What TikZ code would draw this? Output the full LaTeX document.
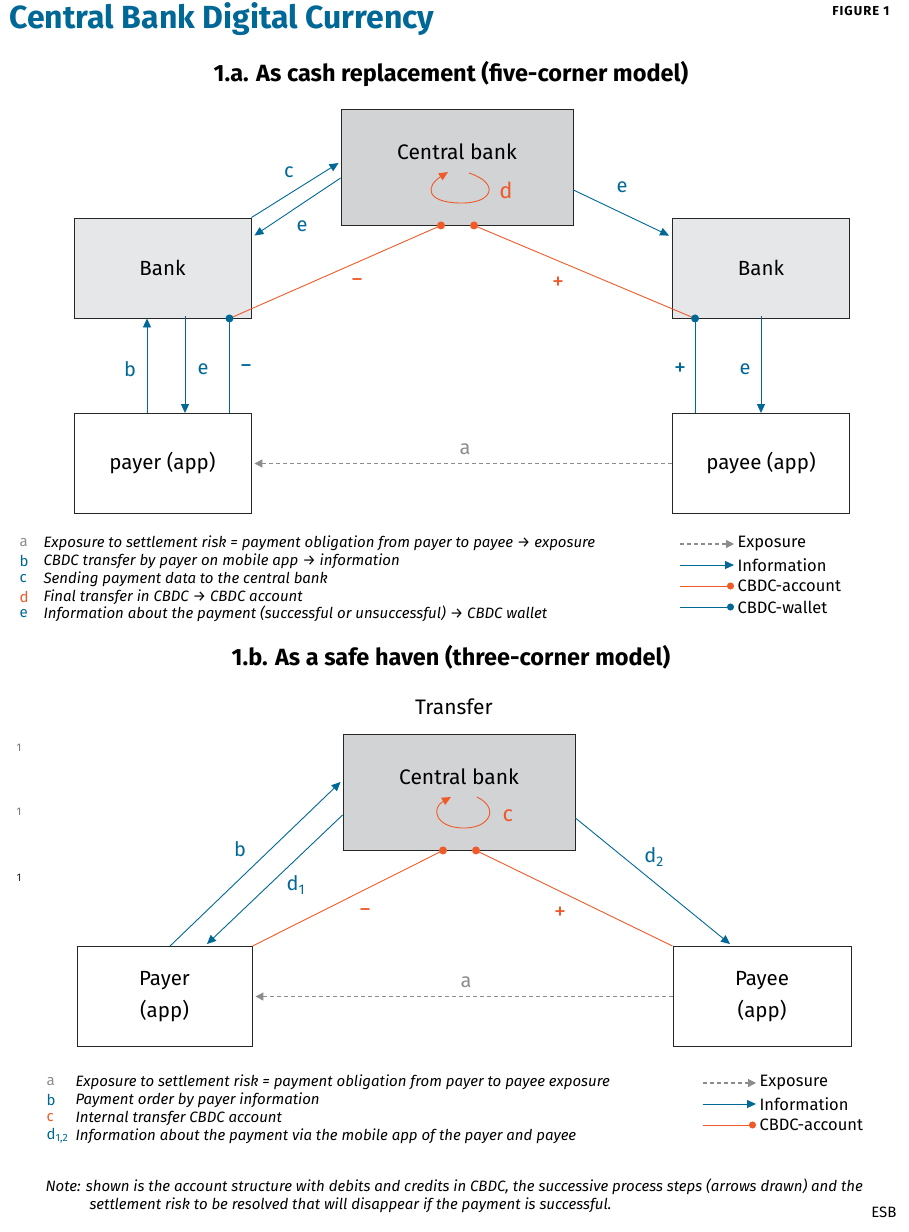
\documentclass[tikz,border=0pt]{standalone}
\usepackage{fontspec}
\setmainfont{Fira Sans}
\usetikzlibrary{positioning,arrows.meta}
\definecolor{esbblue}{RGB}{0,104,150}
\definecolor{esborange}{RGB}{240,90,40}
\definecolor{cbgray}{RGB}{209,211,212}
\definecolor{bankgray}{RGB}{230,231,232}
\definecolor{expgray}{RGB}{140,140,140}

\begin{document}
\begin{tikzpicture}[
  x = 1pt,
  y = -1pt,
  box/.style = {
    draw = black!85,
    line width = 0.9pt,
    rectangle,
    fill = white,
    minimum width = 177pt,
    minimum height = 100pt,
    align = center,
    font = \fontsize{20.5}{32}\selectfont,
  },
  bank/.style = {
    box,
    fill = bankgray,
  },
  central/.style = {
    box,
    fill = cbgray,
    minimum width = 232pt,
    minimum height = 116pt,
  },
  info/.style = {
    draw = esbblue,
    line width = 0.9pt,
    -{Triangle[length=9pt,width=8pt]},
  },
  account/.style = {
    draw = esborange,
    line width = 0.9pt,
  },
  wallet/.style = {
    draw = esbblue,
    line width = 0.9pt,
  },
  expo/.style = {
    draw = expgray,
    line width = 1.2pt,
    dash pattern = on 4pt off 3pt,
    -{Triangle[length=8pt,width=8pt]},
  },
  dot/.style = {
    circle,
    inner sep = 0pt,
    minimum size = 8pt,
  },
  lbl/.style = {
    font = \fontsize{20}{24}\selectfont,
    text = esbblue,
  },
  sign/.style = {
    font = \fontsize{24}{26}\selectfont,
    text = esbblue,
  },
  legend/.style = {
    anchor = west,
    font = \fontsize{15}{18}\selectfont\itshape,
  },
  key/.style = {
    anchor = west,
    font = \fontsize{16.5}{20}\selectfont,
  },
]

  \useasboundingbox (0,0) rectangle (908,1232);

  % headings
  \node[anchor=west,text=esbblue,font=\fontsize{32}{36}\selectfont\bfseries] (title) at (6,19) {Central Bank Digital Currency};
  \node[anchor=east,font=\fontsize{13}{14}\selectfont\bfseries\addfontfeatures{LetterSpace=8}] (fig) at (893,11) {FIGURE 1};
  \node[font=\fontsize{23.5}{26}\selectfont\bfseries] (suba) at (451,74) {1.a. As cash replacement (five-corner model)};

  % 1.a five-corner model
  \node[central] (cb) at (457,167) {};
  \node[font=\fontsize{21}{24}\selectfont] (cbtxt) at ([yshift=-43pt]cb.north) {Central bank};
  \node[bank] (bankL) at (162.5,268) {Bank};
  \node[bank] (bankR) at (761,268) {Bank};
  \node[box] (payer) at (162.5,463.5) {payer (app)};
  \node[box] (payee) at (761,463.5) {payee (app)};

  \coordinate (cbm) at ([xshift=-16pt]cb.south);
  \coordinate (cbp) at ([xshift=17pt]cb.south);
  \coordinate (wL) at ([xshift=-22pt]bankL.south east);
  \coordinate (wR) at ([xshift=23pt]bankR.south west);

  \draw[account,-{Triangle[length=9pt,width=8pt]}] (469,173) .. controls (500,183) and (494,204) .. (459,203)
    .. controls (425,202) and (426,186) .. (448,172);
  \node[lbl,text=esborange,font=\fontsize{22}{24}\selectfont] (ld) at (506,190) {d};

  \draw[info] (bankL.north east) -- ([xshift=-2pt,yshift=4pt]cb.west);
  \node[lbl] (lc) at (289,172) {c};
  \draw[info] ([yshift=-11pt]cb.west) -- ([xshift=3pt,yshift=-18pt]bankL.north east);
  \node[lbl] (le1) at (302,226) {e};
  \draw[info] ([yshift=-23pt]cb.east) -- ([xshift=-3pt,yshift=-18pt]bankR.north west);
  \node[lbl] (le2) at (622,187) {e};

  \draw[account] (cbm) -- (wL);
  \draw[account] (cbp) -- (wR);
  \node[sign,text=esborange] (lm) at (357,283) {−};
  \node[sign,text=esborange] (lp) at (558,283) {+};
  \node[dot,fill=esborange] (dm) at (cbm) {};
  \node[dot,fill=esborange] (dp) at (cbp) {};

  \draw[info] ([xshift=-15.5pt]payer.north) -- ([xshift=-15.5pt]bankL.south);
  \node[lbl] (lb) at (130,369) {b};
  \draw[info] ([xshift=22.5pt,yshift=2pt]bankL.south) -- ([xshift=22.5pt]payer.north);
  \node[lbl] (le3) at (203,369) {e};
  \draw[wallet] (wL) -- (wL |- payer.north);
  \node[sign] (lwm) at (246,369) {−};
  \node[dot,fill=esbblue] (dwl) at (wL) {};

  \draw[wallet] (wR) -- (wR |- payee.north);
  \node[sign] (lwp) at (680,369) {+};
  \draw[info] ([yshift=2pt]bankR.south) -- (payee.north);
  \node[lbl] (le4) at (745,369) {e};
  \node[dot,fill=esbblue] (dwr) at (wR) {};

  \draw[expo] (payee.west) -- ([xshift=3pt]payer.east);
  \node[lbl,text=expgray] (la) at (465,449) {a};

  % legend 1.a
  \node[legend,text=expgray,font=\fontsize{15}{18}\selectfont] (ka) at (16,543) {a};
  \node[legend,text=esbblue,font=\fontsize{15}{18}\selectfont] (kb) at (16,561) {b};
  \node[legend,text=esbblue,font=\fontsize{15}{18}\selectfont] (kc) at (16,579) {c};
  \node[legend,text=esborange,font=\fontsize{15}{18}\selectfont] (kd) at (16,597) {d};
  \node[legend,text=esbblue,font=\fontsize{15}{18}\selectfont] (ke) at (16,614) {e};
  \node[legend] (ta) at (40,543) {Exposure to settlement risk = payment obligation from payer to payee → exposure};
  \node[legend] (tb) at (40,561) {CBDC transfer by payer on mobile app →\ information};
  \node[legend] (tc) at (40,579) {Sending payment data to the central bank};
  \node[legend] (td) at (40,597) {Final transfer in CBDC → CBDC account};
  \node[legend] (te) at (40,614) {Information about the payment (successful or unsuccessful) → CBDC wallet};

  \coordinate (s1) at (680,544);
  \coordinate (s2) at (680,565);
  \coordinate (s3) at (680,586);
  \coordinate (s4) at (680,607);
  \node[key] (k1) at (734,544) {Exposure};
  \node[key] (k2) at (734,565) {Information};
  \node[key] (k3) at (734,586) {CBDC-account};
  \node[key] (k4) at (734,607) {CBDC-wallet};
  \draw[expo] (s1) -- (k1.west);
  \draw[info] (s2) -- (k2.west);
  \draw[account,-{Circle[length=7pt]}] (s3) -- (k3.west);
  \draw[wallet,-{Circle[length=7pt]}] (s4) -- (k4.west);

  % 1.b three-corner model
  \node[font=\fontsize{23.5}{26}\selectfont\bfseries] (subb) at (451,657) {1.b. As a safe haven (three-corner model)};
  \node[font=\fontsize{21}{24}\selectfont] (transfer) at (454,707) {Transfer};

  \node[font=\fontsize{11}{12}\selectfont,text=black!55] (s1a) at (19,748) {1};
  \node[font=\fontsize{11}{12}\selectfont,text=black!55] (s1b) at (19,812) {1};
  \node[font=\fontsize{11}{12}\selectfont,text=black!85] (s1c) at (19,878) {1};

  \node[central] (cb2) at (459,792) {};
  \node[font=\fontsize{21}{24}\selectfont] (cbtxt2) at ([yshift=-43pt]cb2.north) {Central bank};
  \node[box,minimum width=175pt] (payer2) at (164.5,996.5) {Payer\\(app)};
  \node[box,minimum width=178pt] (payee2) at (762,996.5) {Payee\\(app)};

  \coordinate (cbm2) at ([xshift=-16pt]cb2.south);
  \coordinate (cbp2) at ([xshift=17pt]cb2.south);

  \draw[account,-{Triangle[length=9pt,width=8pt]}] (477,797) .. controls (500,808) and (490,829) .. (462,828)
    .. controls (435,827) and (431,808) .. (451,797);
  \node[lbl,text=esborange,font=\fontsize{22}{24}\selectfont] (lc2) at (508,816) {c};

  \draw[info] ([xshift=5.5pt]payer2.north) -- ([xshift=-2pt,yshift=10pt]cb2.west);
  \node[lbl] (lb2) at (240,849) {b};
  \draw[info] ([yshift=-23pt]cb2.west) -- ([xshift=42.5pt,yshift=2pt]payer2.north);
  \node[lbl] (ld1) at (296,885) {d\textsubscript{1}};
  \draw[info] ([yshift=-26pt]cb2.east) -- ([xshift=-32pt,yshift=2pt]payee2.north);
  \node[lbl] (ld2) at (654,857) {d\textsubscript{2}};

  \draw[account] (cbm2) -- (payer2.north east);
  \draw[account] (cbp2) -- (payee2.north west);
  \node[sign,text=esborange] (lm2) at (365,913) {−};
  \node[sign,text=esborange] (lp2) at (560,913) {+};
  \node[dot,fill=esborange] (dm2) at (cbm2) {};
  \node[dot,fill=esborange] (dp2) at (cbp2) {};

  \draw[expo] (payee2.west) -- ([xshift=3pt]payer2.east);
  \node[lbl,text=expgray] (la2) at (466,982) {a};

  % legend 1.b
  \node[legend,text=expgray,font=\fontsize{15}{18}\selectfont] (ka2) at (43,1082) {a};
  \node[legend,text=esbblue,font=\fontsize{15}{18}\selectfont] (kb2) at (43,1100) {b};
  \node[legend,text=esborange,font=\fontsize{15}{18}\selectfont] (kc2) at (43,1118) {c};
  \node[legend,text=esbblue,font=\fontsize{15}{18}\selectfont] (kd2) at (43,1136) {d\textsubscript{1,2}};
  \node[legend] (ta2) at (72,1082) {Exposure to settlement risk = payment obligation from payer to payee exposure};
  \node[legend] (tb2) at (72,1100) {Payment order by payer information};
  \node[legend] (tc2) at (72,1118) {Internal transfer CBDC account};
  \node[legend] (td2) at (72,1136) {Information about the payment via the mobile app of the payer and payee};

  \coordinate (t1) at (703,1083);
  \coordinate (t2) at (703,1104);
  \coordinate (t3) at (703,1125);
  \node[key] (m1) at (756,1083) {Exposure};
  \node[key] (m2) at (756,1104) {Information};
  \node[key] (m3) at (756,1125) {CBDC-account};
  \draw[expo] (t1) -- (m1.west);
  \draw[info] (t2) -- (m2.west);
  \draw[account,-{Circle[length=7pt]}] (t3) -- (m3.west);

  % note
  \node[legend] (note1) at (42,1187) {Note: shown is the account structure with debits and credits in CBDC, the successive process steps (arrows drawn) and the};
  \node[legend] (note2) at (86,1205) {settlement risk to be resolved that will disappear if the payment is successful.};
  \node[key,anchor=east,font=\fontsize{15}{18}\selectfont] (esb) at (900,1212) {ESB};

\end{tikzpicture}
\end{document}
